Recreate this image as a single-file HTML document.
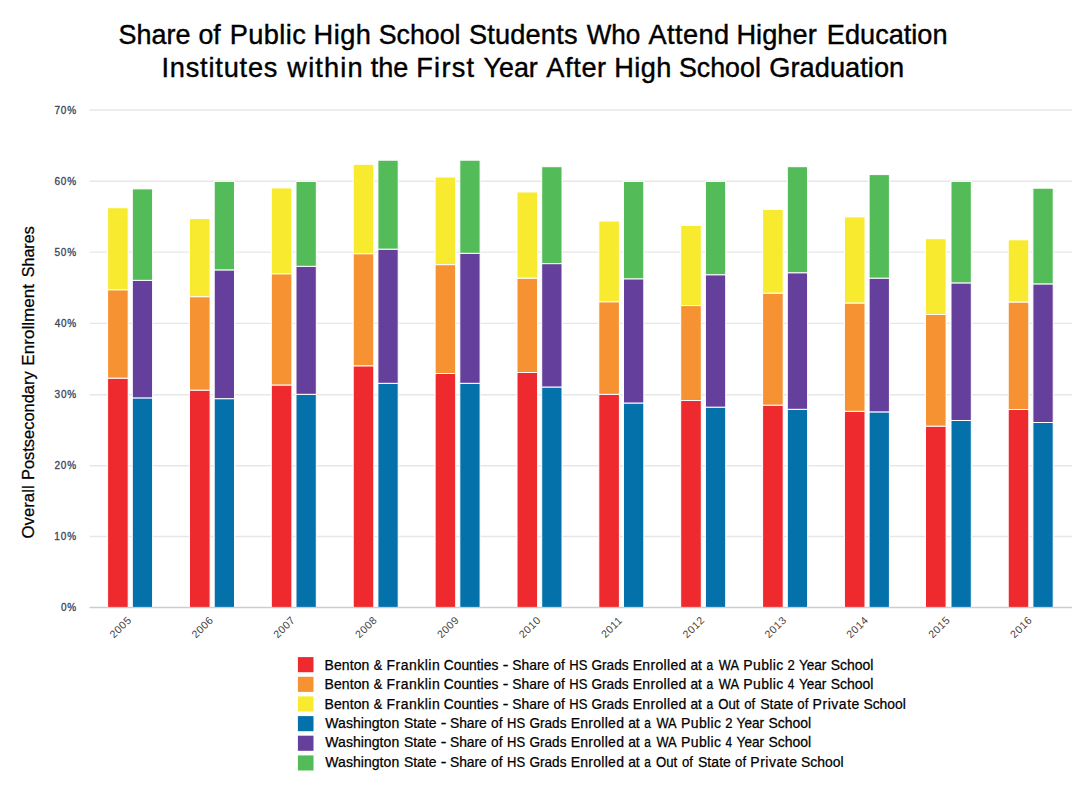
<!DOCTYPE html>
<html><head><meta charset="utf-8"><title>Chart</title>
<style>
html,body{margin:0;padding:0;background:#fff;}
body{width:1080px;height:791px;overflow:hidden;font-family:"Liberation Sans",sans-serif;}
svg{display:block;}
text{font-family:"Liberation Sans",sans-serif;}
</style></head><body>
<svg width="1080" height="791" viewBox="0 0 1080 791">
<rect width="1080" height="791" fill="#ffffff"/>

<line x1="89.7" x2="1072" y1="110.0" y2="110.0" stroke="#e7e7e7" stroke-width="1.4"/>
<line x1="89.7" x2="1072" y1="181.3" y2="181.3" stroke="#e7e7e7" stroke-width="1.4"/>
<line x1="89.7" x2="1072" y1="252.1" y2="252.1" stroke="#e7e7e7" stroke-width="1.4"/>
<line x1="89.7" x2="1072" y1="323.4" y2="323.4" stroke="#e7e7e7" stroke-width="1.4"/>
<line x1="89.7" x2="1072" y1="394.7" y2="394.7" stroke="#e7e7e7" stroke-width="1.4"/>
<line x1="89.7" x2="1072" y1="465.7" y2="465.7" stroke="#e7e7e7" stroke-width="1.4"/>
<line x1="89.7" x2="1072" y1="536.5" y2="536.5" stroke="#e7e7e7" stroke-width="1.4"/>
<line x1="89.7" x2="1072" y1="607.4" y2="607.4" stroke="#c9cdd9" stroke-width="1.4"/>
<text transform="translate(54.45,113.6) scale(1.0000,1)" font-size="10.0" fill="#3b4558" letter-spacing="0.813" stroke="#3b4558" stroke-width="0.3">70%</text>
<text transform="translate(54.45,184.9) scale(1.0000,1)" font-size="10.0" fill="#3b4558" letter-spacing="0.813" stroke="#3b4558" stroke-width="0.3">60%</text>
<text transform="translate(54.55,255.7) scale(1.0000,1)" font-size="10.0" fill="#3b4558" letter-spacing="0.763" stroke="#3b4558" stroke-width="0.3">50%</text>
<text transform="translate(54.72,327.0) scale(1.0000,1)" font-size="10.0" fill="#3b4558" letter-spacing="0.675" stroke="#3b4558" stroke-width="0.3">40%</text>
<text transform="translate(54.57,398.3) scale(1.0000,1)" font-size="10.0" fill="#3b4558" letter-spacing="0.750" stroke="#3b4558" stroke-width="0.3">30%</text>
<text transform="translate(54.45,469.3) scale(1.0000,1)" font-size="10.0" fill="#3b4558" letter-spacing="0.813" stroke="#3b4558" stroke-width="0.3">20%</text>
<text transform="translate(54.20,540.1) scale(1.0000,1)" font-size="10.0" fill="#3b4558" letter-spacing="0.938" stroke="#3b4558" stroke-width="0.3">10%</text>
<text transform="translate(61.05,611.0) scale(1.0000,1)" font-size="10.0" fill="#3b4558" letter-spacing="0.600" stroke="#3b4558" stroke-width="0.3">0%</text>
<rect x="107.6" y="207.7" width="20.6" height="82.2" fill="#f8eb2f" stroke="#fff" stroke-width="1.0"/>
<rect x="107.6" y="289.9" width="20.6" height="88.4" fill="#f79233" stroke="#fff" stroke-width="1.0"/>
<rect x="107.6" y="378.3" width="20.6" height="229.1" fill="#ee2a2e" stroke="#fff" stroke-width="1.0"/>
<rect x="132.3" y="188.9" width="20.3" height="91.5" fill="#53bb57" stroke="#fff" stroke-width="1.0"/>
<rect x="132.3" y="280.4" width="20.3" height="117.7" fill="#643f9c" stroke="#fff" stroke-width="1.0"/>
<rect x="132.3" y="398.1" width="20.3" height="209.3" fill="#0571ab" stroke="#fff" stroke-width="1.0"/>
<text transform="translate(120.5,627.1) rotate(-45)" font-size="10.6" fill="#444" letter-spacing="0.55" text-anchor="middle" dy="3.7">2005</text>
<rect x="189.5" y="218.6" width="20.6" height="78.2" fill="#f8eb2f" stroke="#fff" stroke-width="1.0"/>
<rect x="189.5" y="296.8" width="20.6" height="93.5" fill="#f79233" stroke="#fff" stroke-width="1.0"/>
<rect x="189.5" y="390.3" width="20.6" height="217.1" fill="#ee2a2e" stroke="#fff" stroke-width="1.0"/>
<rect x="214.2" y="181.4" width="20.3" height="88.7" fill="#53bb57" stroke="#fff" stroke-width="1.0"/>
<rect x="214.2" y="270.1" width="20.3" height="128.7" fill="#643f9c" stroke="#fff" stroke-width="1.0"/>
<rect x="214.2" y="398.8" width="20.3" height="208.6" fill="#0571ab" stroke="#fff" stroke-width="1.0"/>
<text transform="translate(202.4,627.1) rotate(-45)" font-size="10.6" fill="#444" letter-spacing="0.55" text-anchor="middle" dy="3.7">2006</text>
<rect x="271.3" y="187.9" width="20.6" height="86.0" fill="#f8eb2f" stroke="#fff" stroke-width="1.0"/>
<rect x="271.3" y="273.9" width="20.6" height="111.3" fill="#f79233" stroke="#fff" stroke-width="1.0"/>
<rect x="271.3" y="385.2" width="20.6" height="222.2" fill="#ee2a2e" stroke="#fff" stroke-width="1.0"/>
<rect x="296.0" y="181.4" width="20.3" height="85.0" fill="#53bb57" stroke="#fff" stroke-width="1.0"/>
<rect x="296.0" y="266.4" width="20.3" height="128.0" fill="#643f9c" stroke="#fff" stroke-width="1.0"/>
<rect x="296.0" y="394.4" width="20.3" height="213.0" fill="#0571ab" stroke="#fff" stroke-width="1.0"/>
<text transform="translate(284.2,627.1) rotate(-45)" font-size="10.6" fill="#444" letter-spacing="0.55" text-anchor="middle" dy="3.7">2007</text>
<rect x="353.2" y="164.3" width="20.6" height="89.5" fill="#f8eb2f" stroke="#fff" stroke-width="1.0"/>
<rect x="353.2" y="253.8" width="20.6" height="112.2" fill="#f79233" stroke="#fff" stroke-width="1.0"/>
<rect x="353.2" y="366.0" width="20.6" height="241.4" fill="#ee2a2e" stroke="#fff" stroke-width="1.0"/>
<rect x="377.9" y="160.2" width="20.3" height="89.1" fill="#53bb57" stroke="#fff" stroke-width="1.0"/>
<rect x="377.9" y="249.3" width="20.3" height="134.1" fill="#643f9c" stroke="#fff" stroke-width="1.0"/>
<rect x="377.9" y="383.4" width="20.3" height="224.0" fill="#0571ab" stroke="#fff" stroke-width="1.0"/>
<text transform="translate(366.1,627.1) rotate(-45)" font-size="10.6" fill="#444" letter-spacing="0.55" text-anchor="middle" dy="3.7">2008</text>
<rect x="435.1" y="177.0" width="20.6" height="87.7" fill="#f8eb2f" stroke="#fff" stroke-width="1.0"/>
<rect x="435.1" y="264.7" width="20.6" height="108.8" fill="#f79233" stroke="#fff" stroke-width="1.0"/>
<rect x="435.1" y="373.5" width="20.6" height="233.9" fill="#ee2a2e" stroke="#fff" stroke-width="1.0"/>
<rect x="459.8" y="160.2" width="20.3" height="93.2" fill="#53bb57" stroke="#fff" stroke-width="1.0"/>
<rect x="459.8" y="253.4" width="20.3" height="130.0" fill="#643f9c" stroke="#fff" stroke-width="1.0"/>
<rect x="459.8" y="383.4" width="20.3" height="224.0" fill="#0571ab" stroke="#fff" stroke-width="1.0"/>
<text transform="translate(448.0,627.1) rotate(-45)" font-size="10.6" fill="#444" letter-spacing="0.55" text-anchor="middle" dy="3.7">2009</text>
<rect x="517.0" y="192.0" width="20.6" height="86.3" fill="#f8eb2f" stroke="#fff" stroke-width="1.0"/>
<rect x="517.0" y="278.3" width="20.6" height="94.2" fill="#f79233" stroke="#fff" stroke-width="1.0"/>
<rect x="517.0" y="372.5" width="20.6" height="234.9" fill="#ee2a2e" stroke="#fff" stroke-width="1.0"/>
<rect x="541.7" y="166.7" width="20.3" height="97.0" fill="#53bb57" stroke="#fff" stroke-width="1.0"/>
<rect x="541.7" y="263.7" width="20.3" height="123.5" fill="#643f9c" stroke="#fff" stroke-width="1.0"/>
<rect x="541.7" y="387.2" width="20.3" height="220.2" fill="#0571ab" stroke="#fff" stroke-width="1.0"/>
<text transform="translate(529.8,627.1) rotate(-45)" font-size="10.6" fill="#444" letter-spacing="0.55" text-anchor="middle" dy="3.7">2010</text>
<rect x="598.8" y="221.0" width="20.6" height="80.9" fill="#f8eb2f" stroke="#fff" stroke-width="1.0"/>
<rect x="598.8" y="301.9" width="20.6" height="92.5" fill="#f79233" stroke="#fff" stroke-width="1.0"/>
<rect x="598.8" y="394.4" width="20.6" height="213.0" fill="#ee2a2e" stroke="#fff" stroke-width="1.0"/>
<rect x="623.5" y="181.4" width="20.3" height="97.6" fill="#53bb57" stroke="#fff" stroke-width="1.0"/>
<rect x="623.5" y="279.0" width="20.3" height="124.2" fill="#643f9c" stroke="#fff" stroke-width="1.0"/>
<rect x="623.5" y="403.2" width="20.3" height="204.2" fill="#0571ab" stroke="#fff" stroke-width="1.0"/>
<text transform="translate(611.7,627.1) rotate(-45)" font-size="10.6" fill="#444" letter-spacing="0.55" text-anchor="middle" dy="3.7">2011</text>
<rect x="680.7" y="225.4" width="20.6" height="80.2" fill="#f8eb2f" stroke="#fff" stroke-width="1.0"/>
<rect x="680.7" y="305.6" width="20.6" height="94.9" fill="#f79233" stroke="#fff" stroke-width="1.0"/>
<rect x="680.7" y="400.5" width="20.6" height="206.9" fill="#ee2a2e" stroke="#fff" stroke-width="1.0"/>
<rect x="705.4" y="181.4" width="20.3" height="93.5" fill="#53bb57" stroke="#fff" stroke-width="1.0"/>
<rect x="705.4" y="274.9" width="20.3" height="132.4" fill="#643f9c" stroke="#fff" stroke-width="1.0"/>
<rect x="705.4" y="407.3" width="20.3" height="200.1" fill="#0571ab" stroke="#fff" stroke-width="1.0"/>
<text transform="translate(693.6,627.1) rotate(-45)" font-size="10.6" fill="#444" letter-spacing="0.55" text-anchor="middle" dy="3.7">2012</text>
<rect x="762.6" y="209.4" width="20.6" height="83.9" fill="#f8eb2f" stroke="#fff" stroke-width="1.0"/>
<rect x="762.6" y="293.3" width="20.6" height="112.0" fill="#f79233" stroke="#fff" stroke-width="1.0"/>
<rect x="762.6" y="405.3" width="20.6" height="202.1" fill="#ee2a2e" stroke="#fff" stroke-width="1.0"/>
<rect x="787.3" y="166.7" width="20.3" height="106.2" fill="#53bb57" stroke="#fff" stroke-width="1.0"/>
<rect x="787.3" y="272.9" width="20.3" height="136.5" fill="#643f9c" stroke="#fff" stroke-width="1.0"/>
<rect x="787.3" y="409.4" width="20.3" height="198.0" fill="#0571ab" stroke="#fff" stroke-width="1.0"/>
<text transform="translate(775.5,627.1) rotate(-45)" font-size="10.6" fill="#444" letter-spacing="0.55" text-anchor="middle" dy="3.7">2013</text>
<rect x="844.4" y="216.9" width="20.6" height="86.3" fill="#f8eb2f" stroke="#fff" stroke-width="1.0"/>
<rect x="844.4" y="303.2" width="20.6" height="108.2" fill="#f79233" stroke="#fff" stroke-width="1.0"/>
<rect x="844.4" y="411.4" width="20.6" height="196.0" fill="#ee2a2e" stroke="#fff" stroke-width="1.0"/>
<rect x="869.1" y="174.6" width="20.3" height="103.7" fill="#53bb57" stroke="#fff" stroke-width="1.0"/>
<rect x="869.1" y="278.3" width="20.3" height="133.8" fill="#643f9c" stroke="#fff" stroke-width="1.0"/>
<rect x="869.1" y="412.1" width="20.3" height="195.3" fill="#0571ab" stroke="#fff" stroke-width="1.0"/>
<text transform="translate(857.3,627.1) rotate(-45)" font-size="10.6" fill="#444" letter-spacing="0.55" text-anchor="middle" dy="3.7">2014</text>
<rect x="925.5" y="238.7" width="20.6" height="75.8" fill="#f8eb2f" stroke="#fff" stroke-width="1.0"/>
<rect x="925.5" y="314.5" width="20.6" height="111.8" fill="#f79233" stroke="#fff" stroke-width="1.0"/>
<rect x="925.5" y="426.3" width="20.6" height="181.1" fill="#ee2a2e" stroke="#fff" stroke-width="1.0"/>
<rect x="951.0" y="181.4" width="20.3" height="101.7" fill="#53bb57" stroke="#fff" stroke-width="1.0"/>
<rect x="951.0" y="283.1" width="20.3" height="137.4" fill="#643f9c" stroke="#fff" stroke-width="1.0"/>
<rect x="951.0" y="420.5" width="20.3" height="186.9" fill="#0571ab" stroke="#fff" stroke-width="1.0"/>
<text transform="translate(939.2,627.1) rotate(-45)" font-size="10.6" fill="#444" letter-spacing="0.55" text-anchor="middle" dy="3.7">2015</text>
<rect x="1008.2" y="239.8" width="20.6" height="62.4" fill="#f8eb2f" stroke="#fff" stroke-width="1.0"/>
<rect x="1008.2" y="302.2" width="20.6" height="107.3" fill="#f79233" stroke="#fff" stroke-width="1.0"/>
<rect x="1008.2" y="409.5" width="20.6" height="197.9" fill="#ee2a2e" stroke="#fff" stroke-width="1.0"/>
<rect x="1032.9" y="188.2" width="20.3" height="95.9" fill="#53bb57" stroke="#fff" stroke-width="1.0"/>
<rect x="1032.9" y="284.1" width="20.3" height="138.4" fill="#643f9c" stroke="#fff" stroke-width="1.0"/>
<rect x="1032.9" y="422.5" width="20.3" height="184.9" fill="#0571ab" stroke="#fff" stroke-width="1.0"/>
<text transform="translate(1021.1,627.1) rotate(-45)" font-size="10.6" fill="#444" letter-spacing="0.55" text-anchor="middle" dy="3.7">2016</text>
<line x1="89.7" x2="1072" y1="607.6999999999999" y2="607.6999999999999" stroke="#c9cdd9" stroke-width="1.2"/>
<text transform="translate(118.59,43.5) scale(0.9918,1)" font-size="27.2" fill="#000" stroke="#000" stroke-width="0.4">Share</text>
<text transform="translate(198.46,43.5) scale(0.9835,1)" font-size="27.2" fill="#000" stroke="#000" stroke-width="0.4">of</text>
<text transform="translate(229.86,43.5) scale(1.0000,1)" font-size="27.2" fill="#000" letter-spacing="0.368" stroke="#000" stroke-width="0.4">Public</text>
<text transform="translate(313.56,43.5) scale(1.0000,1)" font-size="27.2" fill="#000" letter-spacing="0.449" stroke="#000" stroke-width="0.4">High</text>
<text transform="translate(378.69,43.5) scale(0.9850,1)" font-size="27.2" fill="#000" stroke="#000" stroke-width="0.4">School</text>
<text transform="translate(468.88,43.5) scale(1.0000,1)" font-size="27.2" fill="#000" letter-spacing="0.186" stroke="#000" stroke-width="0.4">Students</text>
<text transform="translate(586.67,43.5) scale(0.9603,1)" font-size="27.2" fill="#000" stroke="#000" stroke-width="0.4">Who</text>
<text transform="translate(648.43,43.5) scale(1.0000,1)" font-size="27.2" fill="#000" letter-spacing="0.412" stroke="#000" stroke-width="0.4">Attend</text>
<text transform="translate(736.46,43.5) scale(1.0000,1)" font-size="27.2" fill="#000" letter-spacing="0.030" stroke="#000" stroke-width="0.4">Higher</text>
<text transform="translate(826.86,43.5) scale(0.9981,1)" font-size="27.2" fill="#000" stroke="#000" stroke-width="0.4">Education</text>
<text transform="translate(161.48,77.2) scale(1.0000,1)" font-size="27.2" fill="#000" letter-spacing="0.789" stroke="#000" stroke-width="0.4">Institutes</text>
<text transform="translate(287.37,77.2) scale(1.0000,1)" font-size="27.2" fill="#000" letter-spacing="1.127" stroke="#000" stroke-width="0.4">within</text>
<text transform="translate(370.69,77.2) scale(0.9960,1)" font-size="27.2" fill="#000" stroke="#000" stroke-width="0.4">the</text>
<text transform="translate(416.26,77.2) scale(1.0000,1)" font-size="27.2" fill="#000" letter-spacing="1.253" stroke="#000" stroke-width="0.4">First</text>
<text transform="translate(483.50,77.2) scale(0.9884,1)" font-size="27.2" fill="#000" stroke="#000" stroke-width="0.4">Year</text>
<text transform="translate(546.33,77.2) scale(1.0000,1)" font-size="27.2" fill="#000" letter-spacing="0.604" stroke="#000" stroke-width="0.4">After</text>
<text transform="translate(614.36,77.2) scale(1.0000,1)" font-size="27.2" fill="#000" letter-spacing="0.349" stroke="#000" stroke-width="0.4">High</text>
<text transform="translate(678.89,77.2) scale(0.9862,1)" font-size="27.2" fill="#000" stroke="#000" stroke-width="0.4">School</text>
<text transform="translate(769.24,77.2) scale(1.0000,1)" font-size="27.2" fill="#000" letter-spacing="0.054" stroke="#000" stroke-width="0.4">Graduation</text>
<text transform="translate(34.1,538.47) rotate(-90) scale(0.9876,1)" font-size="17.0" fill="#000" stroke="#000" stroke-width="0.25">Overall</text>
<text transform="translate(34.1,480.03) rotate(-90) scale(0.9670,1)" font-size="17.0" fill="#000" stroke="#000" stroke-width="0.25">Postsecondary</text>
<text transform="translate(34.1,365.68) rotate(-90) scale(1.0000,1)" font-size="17.0" fill="#000" letter-spacing="0.047" stroke="#000" stroke-width="0.25">Enrollment</text>
<text transform="translate(34.1,277.30) rotate(-90) scale(0.9478,1)" font-size="17.0" fill="#000" stroke="#000" stroke-width="0.25">Shares</text>
<rect x="297.9" y="657.1" width="15.6" height="15.1" fill="#ee2a2e"/>
<text transform="translate(324.57,669.8) scale(1.0000,1)" font-size="14.0" fill="#000" letter-spacing="0.067" stroke="#000" stroke-width="0.25">Benton</text>
<text transform="translate(373.68,669.8) scale(0.9080,1)" font-size="14.0" fill="#000" stroke="#000" stroke-width="0.25">&amp;</text>
<text transform="translate(386.57,669.8) scale(1.0000,1)" font-size="14.0" fill="#000" letter-spacing="0.473" stroke="#000" stroke-width="0.25">Franklin</text>
<text transform="translate(443.73,669.8) scale(0.9884,1)" font-size="14.0" fill="#000" stroke="#000" stroke-width="0.25">Counties</text>
<text transform="translate(502.76,669.8) scale(1.2099,1)" font-size="14.0" fill="#000" stroke="#000" stroke-width="0.25">-</text>
<text transform="translate(512.30,669.8) scale(0.9898,1)" font-size="14.0" fill="#000" stroke="#000" stroke-width="0.25">Share</text>
<text transform="translate(553.55,669.8) scale(0.9689,1)" font-size="14.0" fill="#000" stroke="#000" stroke-width="0.25">of</text>
<text transform="translate(569.25,669.8) scale(0.9307,1)" font-size="14.0" fill="#000" stroke="#000" stroke-width="0.25">HS</text>
<text transform="translate(591.44,669.8) scale(0.9763,1)" font-size="14.0" fill="#000" stroke="#000" stroke-width="0.25">Grads</text>
<text transform="translate(632.67,669.8) scale(1.0000,1)" font-size="14.0" fill="#000" letter-spacing="0.319" stroke="#000" stroke-width="0.25">Enrolled</text>
<text transform="translate(690.44,669.8) scale(0.9813,1)" font-size="14.0" fill="#000" stroke="#000" stroke-width="0.25">at</text>
<text transform="translate(706.62,669.8) scale(0.8530,1)" font-size="14.0" fill="#000" stroke="#000" stroke-width="0.25">a</text>
<text transform="translate(718.76,669.8) scale(0.9182,1)" font-size="14.0" fill="#000" stroke="#000" stroke-width="0.25">WA</text>
<text transform="translate(743.37,669.8) scale(1.0000,1)" font-size="14.0" fill="#000" letter-spacing="0.355" stroke="#000" stroke-width="0.25">Public</text>
<text transform="translate(787.47,669.8) scale(0.9341,1)" font-size="14.0" fill="#000" stroke="#000" stroke-width="0.25">2</text>
<text transform="translate(798.92,669.8) scale(0.9710,1)" font-size="14.0" fill="#000" stroke="#000" stroke-width="0.25">Year</text>
<text transform="translate(830.80,669.8) scale(0.9981,1)" font-size="14.0" fill="#000" stroke="#000" stroke-width="0.25">School</text>
<rect x="297.9" y="676.8" width="15.6" height="15.1" fill="#f79233"/>
<text transform="translate(324.57,689.2) scale(1.0000,1)" font-size="14.0" fill="#000" letter-spacing="0.067" stroke="#000" stroke-width="0.25">Benton</text>
<text transform="translate(373.68,689.2) scale(0.9080,1)" font-size="14.0" fill="#000" stroke="#000" stroke-width="0.25">&amp;</text>
<text transform="translate(386.57,689.2) scale(1.0000,1)" font-size="14.0" fill="#000" letter-spacing="0.473" stroke="#000" stroke-width="0.25">Franklin</text>
<text transform="translate(443.73,689.2) scale(0.9884,1)" font-size="14.0" fill="#000" stroke="#000" stroke-width="0.25">Counties</text>
<text transform="translate(502.76,689.2) scale(1.2099,1)" font-size="14.0" fill="#000" stroke="#000" stroke-width="0.25">-</text>
<text transform="translate(512.30,689.2) scale(0.9898,1)" font-size="14.0" fill="#000" stroke="#000" stroke-width="0.25">Share</text>
<text transform="translate(553.55,689.2) scale(0.9689,1)" font-size="14.0" fill="#000" stroke="#000" stroke-width="0.25">of</text>
<text transform="translate(569.25,689.2) scale(0.9307,1)" font-size="14.0" fill="#000" stroke="#000" stroke-width="0.25">HS</text>
<text transform="translate(591.44,689.2) scale(0.9763,1)" font-size="14.0" fill="#000" stroke="#000" stroke-width="0.25">Grads</text>
<text transform="translate(632.67,689.2) scale(1.0000,1)" font-size="14.0" fill="#000" letter-spacing="0.319" stroke="#000" stroke-width="0.25">Enrolled</text>
<text transform="translate(690.44,689.2) scale(0.9813,1)" font-size="14.0" fill="#000" stroke="#000" stroke-width="0.25">at</text>
<text transform="translate(706.62,689.2) scale(0.8530,1)" font-size="14.0" fill="#000" stroke="#000" stroke-width="0.25">a</text>
<text transform="translate(718.76,689.2) scale(0.9182,1)" font-size="14.0" fill="#000" stroke="#000" stroke-width="0.25">WA</text>
<text transform="translate(743.37,689.2) scale(1.0000,1)" font-size="14.0" fill="#000" letter-spacing="0.355" stroke="#000" stroke-width="0.25">Public</text>
<text transform="translate(787.86,689.2) scale(0.8416,1)" font-size="14.0" fill="#000" stroke="#000" stroke-width="0.25">4</text>
<text transform="translate(798.92,689.2) scale(0.9710,1)" font-size="14.0" fill="#000" stroke="#000" stroke-width="0.25">Year</text>
<text transform="translate(830.80,689.2) scale(0.9981,1)" font-size="14.0" fill="#000" stroke="#000" stroke-width="0.25">School</text>
<rect x="297.9" y="696.4" width="15.6" height="15.1" fill="#f8eb2f"/>
<text transform="translate(324.57,708.6) scale(1.0000,1)" font-size="14.0" fill="#000" letter-spacing="0.067" stroke="#000" stroke-width="0.25">Benton</text>
<text transform="translate(373.68,708.6) scale(0.9080,1)" font-size="14.0" fill="#000" stroke="#000" stroke-width="0.25">&amp;</text>
<text transform="translate(386.57,708.6) scale(1.0000,1)" font-size="14.0" fill="#000" letter-spacing="0.473" stroke="#000" stroke-width="0.25">Franklin</text>
<text transform="translate(443.73,708.6) scale(0.9884,1)" font-size="14.0" fill="#000" stroke="#000" stroke-width="0.25">Counties</text>
<text transform="translate(502.76,708.6) scale(1.2099,1)" font-size="14.0" fill="#000" stroke="#000" stroke-width="0.25">-</text>
<text transform="translate(512.30,708.6) scale(0.9898,1)" font-size="14.0" fill="#000" stroke="#000" stroke-width="0.25">Share</text>
<text transform="translate(553.55,708.6) scale(0.9689,1)" font-size="14.0" fill="#000" stroke="#000" stroke-width="0.25">of</text>
<text transform="translate(569.25,708.6) scale(0.9307,1)" font-size="14.0" fill="#000" stroke="#000" stroke-width="0.25">HS</text>
<text transform="translate(591.44,708.6) scale(0.9763,1)" font-size="14.0" fill="#000" stroke="#000" stroke-width="0.25">Grads</text>
<text transform="translate(632.67,708.6) scale(1.0000,1)" font-size="14.0" fill="#000" letter-spacing="0.319" stroke="#000" stroke-width="0.25">Enrolled</text>
<text transform="translate(690.44,708.6) scale(0.9813,1)" font-size="14.0" fill="#000" stroke="#000" stroke-width="0.25">at</text>
<text transform="translate(706.62,708.6) scale(0.8530,1)" font-size="14.0" fill="#000" stroke="#000" stroke-width="0.25">a</text>
<text transform="translate(718.20,708.6) scale(0.9424,1)" font-size="14.0" fill="#000" stroke="#000" stroke-width="0.25">Out</text>
<text transform="translate(744.26,708.6) scale(0.9419,1)" font-size="14.0" fill="#000" stroke="#000" stroke-width="0.25">of</text>
<text transform="translate(760.20,708.6) scale(1.0000,1)" font-size="14.0" fill="#000" letter-spacing="0.071" stroke="#000" stroke-width="0.25">State</text>
<text transform="translate(797.36,708.6) scale(0.9419,1)" font-size="14.0" fill="#000" stroke="#000" stroke-width="0.25">of</text>
<text transform="translate(812.57,708.6) scale(1.0000,1)" font-size="14.0" fill="#000" letter-spacing="0.543" stroke="#000" stroke-width="0.25">Private</text>
<text transform="translate(863.40,708.6) scale(0.9932,1)" font-size="14.0" fill="#000" stroke="#000" stroke-width="0.25">School</text>
<rect x="297.9" y="716.1" width="15.6" height="15.1" fill="#0571ab"/>
<text transform="translate(325.36,727.9) scale(1.0000,1)" font-size="14.0" fill="#000" letter-spacing="0.044" stroke="#000" stroke-width="0.25">Washington</text>
<text transform="translate(403.90,727.9) scale(0.9995,1)" font-size="14.0" fill="#000" stroke="#000" stroke-width="0.25">State</text>
<text transform="translate(440.66,727.9) scale(1.2099,1)" font-size="14.0" fill="#000" stroke="#000" stroke-width="0.25">-</text>
<text transform="translate(449.90,727.9) scale(0.9898,1)" font-size="14.0" fill="#000" stroke="#000" stroke-width="0.25">Share</text>
<text transform="translate(491.04,727.9) scale(0.9779,1)" font-size="14.0" fill="#000" stroke="#000" stroke-width="0.25">of</text>
<text transform="translate(507.05,727.9) scale(0.9307,1)" font-size="14.0" fill="#000" stroke="#000" stroke-width="0.25">HS</text>
<text transform="translate(529.45,727.9) scale(0.9709,1)" font-size="14.0" fill="#000" stroke="#000" stroke-width="0.25">Grads</text>
<text transform="translate(570.67,727.9) scale(1.0000,1)" font-size="14.0" fill="#000" letter-spacing="0.276" stroke="#000" stroke-width="0.25">Enrolled</text>
<text transform="translate(628.14,727.9) scale(0.9904,1)" font-size="14.0" fill="#000" stroke="#000" stroke-width="0.25">at</text>
<text transform="translate(644.32,727.9) scale(0.8530,1)" font-size="14.0" fill="#000" stroke="#000" stroke-width="0.25">a</text>
<text transform="translate(656.46,727.9) scale(0.9182,1)" font-size="14.0" fill="#000" stroke="#000" stroke-width="0.25">WA</text>
<text transform="translate(681.07,727.9) scale(1.0000,1)" font-size="14.0" fill="#000" letter-spacing="0.355" stroke="#000" stroke-width="0.25">Public</text>
<text transform="translate(725.17,727.9) scale(0.9341,1)" font-size="14.0" fill="#000" stroke="#000" stroke-width="0.25">2</text>
<text transform="translate(736.62,727.9) scale(0.9710,1)" font-size="14.0" fill="#000" stroke="#000" stroke-width="0.25">Year</text>
<text transform="translate(768.50,727.9) scale(0.9981,1)" font-size="14.0" fill="#000" stroke="#000" stroke-width="0.25">School</text>
<rect x="297.9" y="735.7" width="15.6" height="15.1" fill="#643f9c"/>
<text transform="translate(325.36,747.3) scale(1.0000,1)" font-size="14.0" fill="#000" letter-spacing="0.044" stroke="#000" stroke-width="0.25">Washington</text>
<text transform="translate(403.90,747.3) scale(0.9995,1)" font-size="14.0" fill="#000" stroke="#000" stroke-width="0.25">State</text>
<text transform="translate(440.66,747.3) scale(1.2099,1)" font-size="14.0" fill="#000" stroke="#000" stroke-width="0.25">-</text>
<text transform="translate(449.90,747.3) scale(0.9898,1)" font-size="14.0" fill="#000" stroke="#000" stroke-width="0.25">Share</text>
<text transform="translate(491.04,747.3) scale(0.9779,1)" font-size="14.0" fill="#000" stroke="#000" stroke-width="0.25">of</text>
<text transform="translate(507.05,747.3) scale(0.9307,1)" font-size="14.0" fill="#000" stroke="#000" stroke-width="0.25">HS</text>
<text transform="translate(529.45,747.3) scale(0.9709,1)" font-size="14.0" fill="#000" stroke="#000" stroke-width="0.25">Grads</text>
<text transform="translate(570.67,747.3) scale(1.0000,1)" font-size="14.0" fill="#000" letter-spacing="0.276" stroke="#000" stroke-width="0.25">Enrolled</text>
<text transform="translate(628.14,747.3) scale(0.9904,1)" font-size="14.0" fill="#000" stroke="#000" stroke-width="0.25">at</text>
<text transform="translate(644.32,747.3) scale(0.8530,1)" font-size="14.0" fill="#000" stroke="#000" stroke-width="0.25">a</text>
<text transform="translate(656.46,747.3) scale(0.9182,1)" font-size="14.0" fill="#000" stroke="#000" stroke-width="0.25">WA</text>
<text transform="translate(681.07,747.3) scale(1.0000,1)" font-size="14.0" fill="#000" letter-spacing="0.355" stroke="#000" stroke-width="0.25">Public</text>
<text transform="translate(725.56,747.3) scale(0.8416,1)" font-size="14.0" fill="#000" stroke="#000" stroke-width="0.25">4</text>
<text transform="translate(736.62,747.3) scale(0.9710,1)" font-size="14.0" fill="#000" stroke="#000" stroke-width="0.25">Year</text>
<text transform="translate(768.50,747.3) scale(0.9981,1)" font-size="14.0" fill="#000" stroke="#000" stroke-width="0.25">School</text>
<rect x="297.9" y="755.4" width="15.6" height="15.1" fill="#53bb57"/>
<text transform="translate(325.36,766.7) scale(1.0000,1)" font-size="14.0" fill="#000" letter-spacing="0.044" stroke="#000" stroke-width="0.25">Washington</text>
<text transform="translate(403.90,766.7) scale(0.9995,1)" font-size="14.0" fill="#000" stroke="#000" stroke-width="0.25">State</text>
<text transform="translate(440.66,766.7) scale(1.2099,1)" font-size="14.0" fill="#000" stroke="#000" stroke-width="0.25">-</text>
<text transform="translate(449.90,766.7) scale(0.9898,1)" font-size="14.0" fill="#000" stroke="#000" stroke-width="0.25">Share</text>
<text transform="translate(491.04,766.7) scale(0.9779,1)" font-size="14.0" fill="#000" stroke="#000" stroke-width="0.25">of</text>
<text transform="translate(507.05,766.7) scale(0.9307,1)" font-size="14.0" fill="#000" stroke="#000" stroke-width="0.25">HS</text>
<text transform="translate(529.45,766.7) scale(0.9709,1)" font-size="14.0" fill="#000" stroke="#000" stroke-width="0.25">Grads</text>
<text transform="translate(570.67,766.7) scale(1.0000,1)" font-size="14.0" fill="#000" letter-spacing="0.276" stroke="#000" stroke-width="0.25">Enrolled</text>
<text transform="translate(628.14,766.7) scale(0.9904,1)" font-size="14.0" fill="#000" stroke="#000" stroke-width="0.25">at</text>
<text transform="translate(644.32,766.7) scale(0.8530,1)" font-size="14.0" fill="#000" stroke="#000" stroke-width="0.25">a</text>
<text transform="translate(655.90,766.7) scale(0.9424,1)" font-size="14.0" fill="#000" stroke="#000" stroke-width="0.25">Out</text>
<text transform="translate(681.96,766.7) scale(0.9419,1)" font-size="14.0" fill="#000" stroke="#000" stroke-width="0.25">of</text>
<text transform="translate(697.90,766.7) scale(1.0000,1)" font-size="14.0" fill="#000" letter-spacing="0.071" stroke="#000" stroke-width="0.25">State</text>
<text transform="translate(735.06,766.7) scale(0.9419,1)" font-size="14.0" fill="#000" stroke="#000" stroke-width="0.25">of</text>
<text transform="translate(750.27,766.7) scale(1.0000,1)" font-size="14.0" fill="#000" letter-spacing="0.543" stroke="#000" stroke-width="0.25">Private</text>
<text transform="translate(801.10,766.7) scale(0.9932,1)" font-size="14.0" fill="#000" stroke="#000" stroke-width="0.25">School</text>
</svg></body></html>
